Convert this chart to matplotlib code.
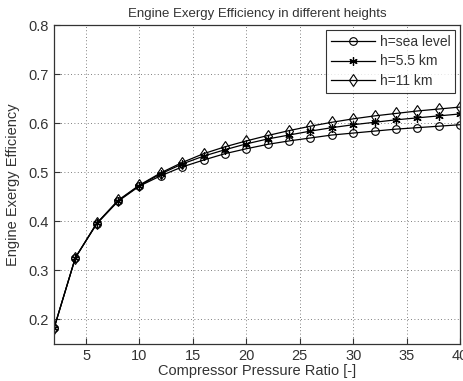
import matplotlib
matplotlib.use("Agg")
import matplotlib.pyplot as plt

plt.rcParams['font.family'] = ['Liberation Sans', 'DejaVu Sans']

ratio = [2, 4, 6, 8, 10, 12, 14, 16, 18, 20, 22, 24, 26, 28, 30, 32, 34, 36, 38, 40]
sea_level = [0.182, 0.326, 0.395, 0.441, 0.472, 0.493, 0.511, 0.525, 0.538, 0.548,
             0.557, 0.564, 0.570, 0.576, 0.580, 0.584, 0.588, 0.591, 0.594, 0.597]
h_5_5 = [0.182, 0.326, 0.396, 0.442, 0.473, 0.497, 0.517, 0.533, 0.546, 0.558,
         0.568, 0.576, 0.584, 0.591, 0.597, 0.602, 0.607, 0.611, 0.615, 0.619]
h_11 = [0.182, 0.326, 0.396, 0.443, 0.474, 0.499, 0.520, 0.538, 0.552, 0.564,
        0.575, 0.585, 0.594, 0.602, 0.609, 0.615, 0.620, 0.625, 0.629, 0.633]
labels = ['h=sea level', 'h=5.5 km', 'h=11 km']

fig = plt.figure(figsize=(4.64, 3.81), dpi=100)
ax = fig.add_axes([0.1164, 0.0971, 0.875, 0.8369])

tc = '#333333'
ax.plot(ratio, sea_level, '-', marker='o', color='black', lw=0.9, ms=5.5, mfc='none', mew=0.8, label=labels[0])
ax.plot(ratio, h_5_5, '-', marker=(6, 2, 0), color='black', lw=0.9, ms=6, mfc='none', mew=0.9, label=labels[1])
ax.plot(ratio, h_11, '-', marker='d', color='black', lw=0.9, ms=6.5, mfc='none', mew=0.8, label=labels[2])

ax.set_xlim(2, 40)
ax.set_ylim(0.15, 0.8)
ax.set_xticks([5, 10, 15, 20, 25, 30, 35, 40])
ax.set_yticks([0.2, 0.3, 0.4, 0.5, 0.6, 0.7, 0.8])
ax.grid(True, color='#555555', linestyle=(0, (1, 3)), lw=0.6)
ax.tick_params(direction='in', labelsize=10.5, colors=tc, length=4, width=0.8)
for s in ax.spines.values():
    s.set_color('#333333')
    s.set_linewidth(0.9)

ax.set_title('Engine Exergy Efficiency in different heights', fontsize=9.5, color=tc, pad=6)
ax.set_xlabel('Compressor Pressure Ratio [-]', fontsize=10.5, color=tc, labelpad=1)
ax.set_ylabel('Engine Exergy Efficiency', fontsize=10.5, color=tc, labelpad=6)

leg = ax.legend(loc='upper right', fontsize=10, frameon=True, fancybox=False,
                edgecolor='black', handlelength=3.2, borderpad=0.35, labelspacing=0.4,
                handletextpad=0.3, borderaxespad=0.35)
leg.get_frame().set_linewidth(0.8)
for t in leg.get_texts():
    t.set_color(tc)

fig.savefig('out.png', dpi=100)
